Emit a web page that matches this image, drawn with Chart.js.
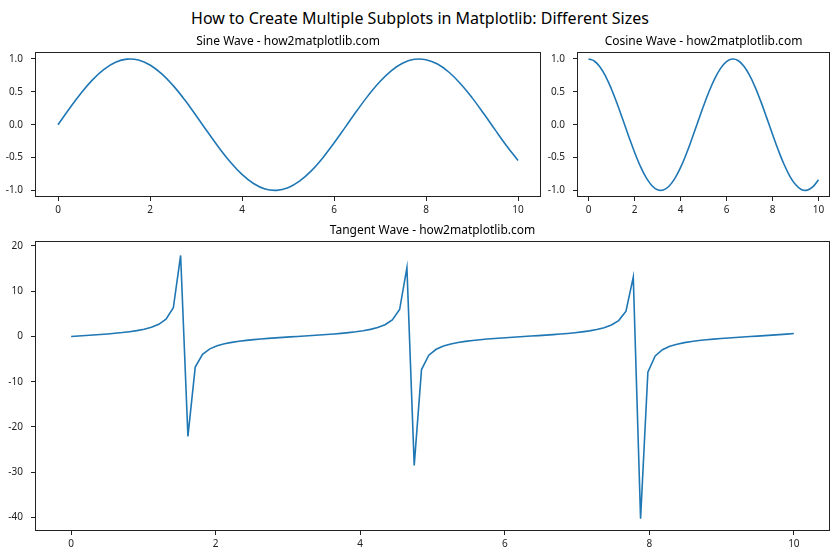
<!DOCTYPE html>
<html lang="en">
<head>
  <meta charset="UTF-8">
  <title>Multiple Subplots - Different Sizes</title>
  <script src="https://cdn.jsdelivr.net/npm/chart.js"></script>
  <style>
    body { margin: 0; background: #fff; font-family: 'Noto Sans', sans-serif; }
    #page { position: relative; width: 840px; height: 560px; overflow: hidden; }
    .suptitle { position: absolute; left: 0; top: 7px; width: 840px; text-align: center; font-size: 16px; color: #000; }
    .box { position: absolute; }
  </style>
</head>
<body>
  <div id="page">
    <div class="suptitle">How to Create Multiple Subplots in Matplotlib: Different Sizes</div>
    <div class="box" style="left:0; top:34px; width:543px; height:185px;"><canvas id="sineChart"></canvas></div>
    <div class="box" style="left:542px; top:34px; width:290px; height:185px;"><canvas id="cosineChart"></canvas></div>
    <div class="box" style="left:0; top:223px; width:832px; height:330px;"><canvas id="tanChart"></canvas></div>
  </div>
  <script>
    // x samples for sine / cosine
    const waveX = [0, 0.25, 0.5, 0.75, 1, 1.25, 1.5, 1.75, 2, 2.25, 2.5, 2.75, 3, 3.25, 3.5, 3.75, 4, 4.25, 4.5, 4.75,
      5, 5.25, 5.5, 5.75, 6, 6.25, 6.5, 6.75, 7, 7.25, 7.5, 7.75, 8, 8.25, 8.5, 8.75, 9, 9.25, 9.5, 9.75, 10];
    const sineY = [0, 0.247, 0.479, 0.682, 0.841, 0.949, 0.997, 0.984, 0.909, 0.778, 0.598, 0.382, 0.141, -0.108, -0.351,
      -0.572, -0.757, -0.895, -0.978, -0.999, -0.959, -0.859, -0.706, -0.509, -0.279, -0.033, 0.215, 0.450, 0.657,
      0.823, 0.938, 0.995, 0.989, 0.923, 0.798, 0.624, 0.412, 0.174, -0.075, -0.320, -0.544];
    const cosineY = [1, 0.969, 0.878, 0.732, 0.540, 0.315, 0.071, -0.178, -0.416, -0.628, -0.801, -0.924, -0.990, -0.994,
      -0.936, -0.820, -0.654, -0.446, -0.211, 0.037, 0.284, 0.512, 0.709, 0.861, 0.960, 0.999, 0.977, 0.893, 0.754,
      0.568, 0.347, 0.104, -0.146, -0.386, -0.602, -0.781, -0.911, -0.985, -0.997, -0.947, -0.839];

    // tangent samples
    const tanX = [0, 0.101, 0.202, 0.303, 0.404, 0.505, 0.606, 0.707, 0.808, 0.909,
      1.010, 1.111, 1.212, 1.313, 1.414, 1.515, 1.616, 1.717, 1.818, 1.919,
      2.020, 2.121, 2.222, 2.323, 2.424, 2.525, 2.626, 2.727, 2.828, 2.929,
      3.030, 3.131, 3.232, 3.333, 3.434, 3.535, 3.636, 3.737, 3.838, 3.939,
      4.040, 4.141, 4.242, 4.343, 4.444, 4.545, 4.646, 4.747, 4.848, 4.949,
      5.051, 5.152, 5.253, 5.354, 5.455, 5.556, 5.657, 5.758, 5.859, 5.960,
      6.061, 6.162, 6.263, 6.364, 6.465, 6.566, 6.667, 6.768, 6.869, 6.970,
      7.071, 7.172, 7.273, 7.374, 7.475, 7.576, 7.677, 7.778, 7.879, 7.980,
      8.081, 8.182, 8.283, 8.384, 8.485, 8.586, 8.687, 8.788, 8.889, 8.990,
      9.091, 9.192, 9.293, 9.394, 9.495, 9.596, 9.697, 9.798, 9.899, 10.0];
    const tanY = [0, 0.10, 0.20, 0.31, 0.43, 0.55, 0.69, 0.85, 1.05, 1.28,
      1.59, 2.02, 2.67, 3.79, 6.33, 17.9, -22.1, -6.78, -3.96, -2.75,
      -2.07, -1.63, -1.31, -1.07, -0.87, -0.71, -0.57, -0.44, -0.32, -0.22,
      -0.11, -0.01, 0.09, 0.19, 0.30, 0.42, 0.54, 0.68, 0.84, 1.03,
      1.26, 1.56, 1.97, 2.59, 3.64, 5.94, 15.2, -28.5, -7.33, -4.14,
      -2.84, -2.13, -1.67, -1.34, -1.09, -0.89, -0.72, -0.58, -0.45, -0.34,
      -0.23, -0.12, -0.02, 0.08, 0.18, 0.29, 0.40, 0.53, 0.66, 0.82,
      1.01, 1.23, 1.53, 1.92, 2.52, 3.50, 5.58, 13.1, -40.3, -7.91,
      -4.33, -2.94, -2.19, -1.71, -1.37, -1.12, -0.91, -0.74, -0.59, -0.46,
      -0.35, -0.24, -0.13, -0.03, 0.07, 0.17, 0.28, 0.39, 0.51, 0.65];

    // tick labels
    const xTicks = [0, 2, 4, 6, 8, 10];
    const waveYTicks = [-1, -0.5, 0, 0.5, 1];
    const tanYTicks = [-40, -30, -20, -10, 0, 10, 20];

    const FONT = "'Noto Sans', sans-serif";
    const LINE = '#1f77b4';
    const INK = '#222';

    // matplotlib-like box around the axes
    const frame = {
      id: 'frame',
      afterDraw(chart) {
        const { ctx, chartArea: a } = chart;
        ctx.save();
        ctx.strokeStyle = INK;
        ctx.lineWidth = 1;
        const l = Math.round(a.left) + 0.5, t = Math.round(a.top) + 0.5;
        const r = Math.round(a.right) - 0.5, b = Math.round(a.bottom) - 0.5;
        ctx.strokeRect(l, t, r - l, b - t);
        ctx.restore();
      }
    };

    function makeChart(id, title, xs, ys, yMin, yMax, yTicks, fmt, tension) {
      return new Chart(document.getElementById(id), {
        type: 'line',
        data: {
          datasets: [{
            data: xs.map((x, i) => ({ x: x, y: ys[i] })),
            borderColor: LINE,
            borderWidth: 1.6,
            pointRadius: 0,
            fill: false,
            tension: tension
          }]
        },
        options: {
          responsive: true,
          maintainAspectRatio: false,
          animation: false,
          layout: { padding: { top: 0, right: 2, bottom: 0, left: 0 } },
          plugins: {
            legend: { display: false },
            tooltip: { enabled: false },
            title: {
              display: true,
              text: title,
              fullSize: false,
              color: '#000',
              font: { family: FONT, size: 12, weight: 'normal', lineHeight: 1.2 },
              padding: { top: 0, bottom: 4 }
            }
          },
          scales: {
            x: {
              type: 'linear',
              min: -0.5,
              max: 10.5,
              afterFit: s => { s.height = 22; },
              afterBuildTicks: s => { s.ticks = xTicks.map(v => ({ value: v })); },
              border: { display: false },
              grid: { display: true, drawOnChartArea: false, drawTicks: true, tickLength: 4, color: INK },
              ticks: { color: INK, font: { family: FONT, size: 10 }, padding: 3, maxRotation: 0 }
            },
            y: {
              min: yMin,
              max: yMax,
              afterFit: s => { s.width = 35; },
              afterBuildTicks: s => { s.ticks = yTicks.map(v => ({ value: v })); },
              border: { display: false },
              grid: { display: true, drawOnChartArea: false, drawTicks: true, tickLength: 4, color: INK },
              ticks: { color: INK, font: { family: FONT, size: 10 }, padding: 8, callback: fmt }
            }
          }
        },
        plugins: [frame]
      });
    }

    const oneDecimal = v => v.toFixed(1);
    const whole = v => String(v);

    makeChart('sineChart', 'Sine Wave - how2matplotlib.com', waveX, sineY, -1.1, 1.1, waveYTicks, oneDecimal, 0.4);
    makeChart('cosineChart', 'Cosine Wave - how2matplotlib.com', waveX, cosineY, -1.1, 1.1, waveYTicks, oneDecimal, 0.4);
    makeChart('tanChart', 'Tangent Wave - how2matplotlib.com', tanX, tanY, -43, 21, tanYTicks, whole, 0);
  </script>
</body>
</html>
